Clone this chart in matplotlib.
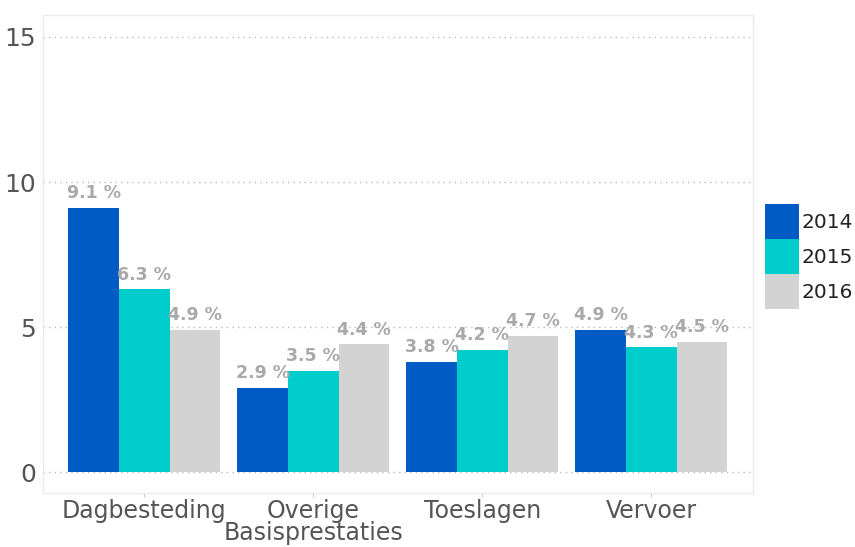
import matplotlib
matplotlib.use("Agg")
import matplotlib.pyplot as plt
import numpy as np

categories = ["Dagbesteding", "Overige\nBasisprestaties", "Toeslagen", "Vervoer"]
years = ["2014", "2015", "2016"]
values_2014 = [9.1, 2.9, 3.8, 4.9]
values_2015 = [6.3, 3.5, 4.2, 4.3]
values_2016 = [4.9, 4.4, 4.7, 4.5]
yticks = [0, 5, 10, 15]

series = [values_2014, values_2015, values_2016]
colors = ["#005BC4", "#00CCCC", "#D3D3D3"]

fig = plt.figure(figsize=(8.55, 5.47), dpi=100)
ax = fig.add_axes([0.0503, 0.0987, 0.830, 0.874])

x = np.arange(len(categories))
group_width = 0.9
bar_w = group_width / len(series)

for i, (vals, col, yr) in enumerate(zip(series, colors, years)):
    pos = x - group_width / 2 + bar_w * (i + 0.5)
    ax.bar(pos, vals, width=bar_w, color=col, label=yr, zorder=3)
    for px, v in zip(pos, vals):
        ax.text(px, v + 0.2, f"{v:.1f} %", ha="center", va="bottom",
                fontsize=12.5, fontweight="bold", color="#A9A9A9", zorder=4)

ax.set_xlim(-0.6, 3.6)
ax.set_ylim(-0.72, 15.76)
ax.set_yticks(yticks)
ax.set_yticklabels([str(t) for t in yticks])
ax.set_xticks(x)
ax.set_xticklabels(categories, linespacing=0.9)

ax.grid(axis="y", linestyle=(0, (1, 3)), color="#BBBBBB", linewidth=1.0, zorder=0)
ax.grid(axis="x", visible=False)

for s in ax.spines.values():
    s.set_color("#EBEBEB")
    s.set_linewidth(1.0)

ax.tick_params(axis="y", length=0, labelsize=18, labelcolor="#555555", pad=5)
ax.tick_params(axis="x", length=3, color="#CCCCCC", labelsize=17,
               labelcolor="#555555", pad=1)

leg = ax.legend(loc="upper left", bbox_to_anchor=(1.018, 0.605), frameon=False,
                handlelength=1.69, handleheight=2.3, labelspacing=0.0,
                handletextpad=0.1, borderaxespad=0, borderpad=0, fontsize=14.5)
for t in leg.get_texts():
    t.set_color("#222222")

fig.savefig("out.png", dpi=100)
